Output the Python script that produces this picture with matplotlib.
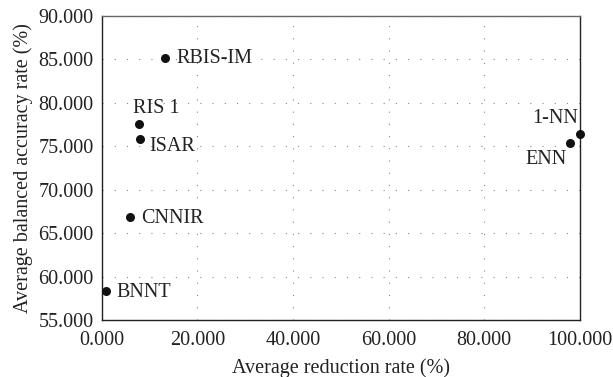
import matplotlib.pyplot as plt
from matplotlib.ticker import FormatStrFormatter

methods = ["RBIS-IM", "RIS 1", "ISAR", "CNNIR", "BNNT", "1-NN", "ENN"]
reduction = [13.2, 7.8, 8.1, 5.9, 0.8, 100.0, 97.9]
accuracy = [85.1, 77.6, 75.8, 66.9, 58.3, 76.4, 75.4]

# label offsets in points (dx, dy, ha, va)
offsets = {
    "RBIS-IM": (8, 0, "left", "center"),
    "RIS 1": (-4, 4, "left", "bottom"),
    "ISAR": (6, -5, "left", "center"),
    "CNNIR": (8, -1, "left", "center"),
    "BNNT": (8, -1, "left", "center"),
    "1-NN": (-1, 4, "right", "bottom"),
    "ENN": (-2, -5, "right", "top"),
}

plt.rcParams["font.family"] = ["Liberation Serif", "DejaVu Serif"]
plt.rcParams["font.size"] = 14.5

fig, ax = plt.subplots(figsize=(6.13, 3.77), dpi=100)
fig.subplots_adjust(left=0.166, right=0.946, top=0.958, bottom=0.151)

ax.scatter(reduction, accuracy, s=30, color="#111111", zorder=3, clip_on=False)
for name, x, y in zip(methods, reduction, accuracy):
    dx, dy, ha, va = offsets[name]
    ax.annotate(name, (x, y), xytext=(dx, dy), textcoords="offset points",
                ha=ha, va=va, color="#222222")

ax.set_xlim(0, 100)
ax.set_ylim(55, 90)
ax.set_xticks(range(0, 101, 20))
ax.set_yticks(range(55, 91, 5))
ax.xaxis.set_major_formatter(FormatStrFormatter("%.3f"))
ax.yaxis.set_major_formatter(FormatStrFormatter("%.3f"))
ax.tick_params(length=0, colors="#222222")
ax.tick_params(axis="x", pad=8)
ax.tick_params(axis="y", pad=6)
ax.grid(True, linestyle=(0, (1, 10)), color="#888888", linewidth=0.8)

for side in ["left", "bottom", "right"]:
    ax.spines[side].set_color("#222222")
    ax.spines[side].set_linewidth(1.0)
ax.spines["top"].set_color("#666666")
ax.spines["top"].set_linewidth(1.0)

ax.set_xlabel("Average reduction rate (%)", color="#222222", labelpad=6)
ax.set_ylabel("Average balanced accuracy rate (%)", color="#222222", labelpad=4)

fig.savefig("out.png", dpi=100)
